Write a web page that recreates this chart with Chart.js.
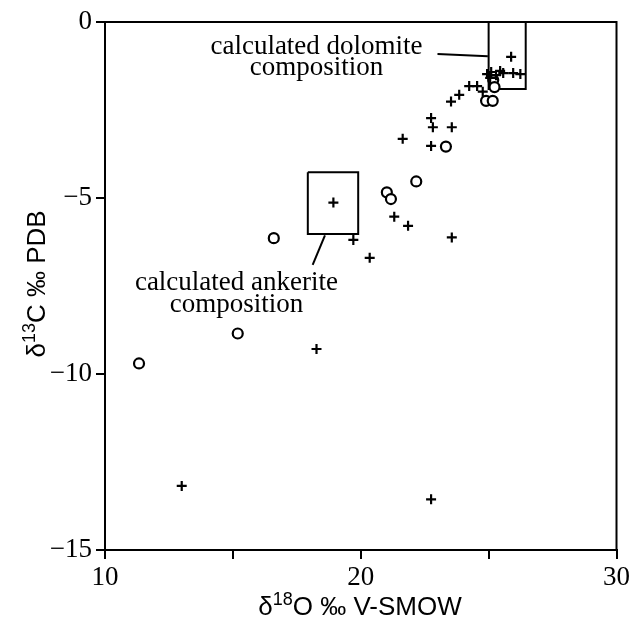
<!DOCTYPE html>
<html>
<head>
<meta charset="utf-8">
<script src="https://cdn.jsdelivr.net/npm/chart.js@4/dist/chart.umd.min.js"></script>
<style>
  html, body { margin: 0; padding: 0; background: #fff; }
  #wrap { width: 633px; height: 625px; }
</style>
</head>
<body>
<div id="wrap"><canvas id="c" width="633" height="625"></canvas></div>
<script>
// δ18O (‰ V-SMOW) and δ13C (‰ PDB) of the carbonate samples
const crossO = [13.0, 22.75, 18.27, 18.93, 19.71, 20.35, 21.31, 21.85, 23.56, 21.64,
                22.75, 22.75, 22.82, 23.56, 23.53, 23.85, 24.77, 24.24, 24.55, 25.88,
                25.96, 26.24, 24.94, 25.10, 25.29, 25.45, 25.57, 25.06];
const crossC = [-13.18, -13.56, -9.29, -5.13, -6.19, -6.70, -5.53, -5.79, -6.12, -3.32,
                -3.52, -2.73, -2.99, -2.99, -2.26, -2.07, -1.98, -1.82, -1.82, -0.99,
                -1.45, -1.48, -1.48, -1.42, -1.51, -1.39, -1.45, -1.59];

const circleO = [11.33, 15.19, 16.60, 21.02, 21.18, 22.17, 23.33, 24.90, 25.16, 25.18, 25.23];
const circleC = [-9.70, -8.85, -6.14, -4.84, -5.03, -4.53, -3.54, -2.24, -2.24, -1.65, -1.85];

// calculated composition fields (O range, C range)
const dolomiteO = [25.0, 26.45];
const dolomiteC = [0, -1.9];
const ankeriteO = [17.93, 19.9];
const ankeriteC = [-4.27, -6.02];

// leader lines from labels to fields
const dolomiteLeaderO = [23.0, 24.97];
const dolomiteLeaderC = [-0.91, -0.97];
const ankeriteLeaderO = [18.12, 18.6];
const ankeriteLeaderC = [-6.9, -6.06];

// label anchors
const dolomiteLabel = { o: 18.27, c: [-0.71, -1.3], lines: ['calculated dolomite', 'composition'] };
const ankeriteLabel = { o: 15.14, c: [-7.41, -8.03], lines: ['calculated ankerite', 'composition'] };

const xTicks = [10, 15, 20, 25, 30];
const xTickLabels = ['10', '', '20', '', '30'];
const yTicks = [0, -5, -10, -15];
const yTickLabels = ['0', '\u22125', '\u221210', '\u221215'];

const pts = (xs, ys) => xs.map((x, i) => ({ x: x, y: ys[i] }));
const rect = (xs, ys) => [
  { x: xs[0], y: ys[0] }, { x: xs[1], y: ys[0] },
  { x: xs[1], y: ys[1] }, { x: xs[0], y: ys[1] }, { x: xs[0], y: ys[0] }
];

const serif = '"Liberation Serif", "Times New Roman", serif';
const sans = '"Liberation Sans", Arial, sans-serif';

const lineDs = (data) => ({
  type: 'line', data: data, borderColor: '#000', borderWidth: 2,
  pointRadius: 0, fill: false, tension: 0
});

const decor = {
  id: 'decor',
  afterDraw(chart) {
    const ctx = chart.ctx;
    const a = chart.chartArea;
    const xs = chart.scales.x, ys = chart.scales.y;
    ctx.save();
    // frame
    ctx.strokeStyle = '#000';
    ctx.lineWidth = 2;
    ctx.strokeRect(a.left, a.top, a.right - a.left, a.bottom - a.top);

    // field labels
    ctx.fillStyle = '#000';
    ctx.font = '27px ' + serif;
    ctx.textAlign = 'center';
    ctx.textBaseline = 'middle';
    [dolomiteLabel, ankeriteLabel].forEach(l => {
      l.lines.forEach((t, i) => {
        ctx.fillText(t, xs.getPixelForValue(l.o), ys.getPixelForValue(l.c[i]));
      });
    });

    // axis titles with superscripts
    const title = (parts, cx, cy, rot) => {
      ctx.save();
      ctx.translate(cx, cy);
      ctx.rotate(rot);
      ctx.textAlign = 'left';
      ctx.textBaseline = 'alphabetic';
      const f = (p) => (p.sup ? '18px ' : '26px ') + sans;
      let w = 0;
      parts.forEach(p => { ctx.font = f(p); w += ctx.measureText(p.t).width; });
      let x = -w / 2;
      parts.forEach(p => {
        ctx.font = f(p);
        ctx.fillText(p.t, x, p.sup ? -1 : 9);
        x += ctx.measureText(p.t).width;
      });
      ctx.restore();
    };
    title([{ t: '\u03b4' }, { t: '18', sup: true }, { t: 'O \u2030 V-SMOW' }], 360, 606, 0);
    title([{ t: '\u03b4' }, { t: '13', sup: true }, { t: 'C \u2030 PDB' }], 36, 284, -Math.PI / 2);
    ctx.restore();
  }
};

new Chart(document.getElementById('c'), {
  type: 'scatter',
  data: {
    datasets: [
      { data: pts(crossO, crossC), pointStyle: 'cross', pointRadius: 5, borderColor: '#000', borderWidth: 2.2, backgroundColor: '#000' },
      { data: pts(circleO, circleC), pointStyle: 'circle', pointRadius: 5, borderColor: '#000', borderWidth: 2.2, backgroundColor: '#fff' },
      lineDs(rect(dolomiteO, dolomiteC)),
      lineDs(rect(ankeriteO, ankeriteC)),
      lineDs(pts(dolomiteLeaderO, dolomiteLeaderC)),
      lineDs(pts(ankeriteLeaderO, ankeriteLeaderC))
    ]
  },
  options: {
    responsive: false,
    animation: false,
    layout: { padding: { left: 0, top: 22, right: 16, bottom: 0 } },
    plugins: { legend: { display: false }, tooltip: { enabled: false } },
    scales: {
      x: {
        type: 'linear', min: 10, max: 30,
        afterFit(s) { s.height = 75; },
        afterBuildTicks(s) { s.ticks = xTicks.map(v => ({ value: v })); },
        ticks: {
          color: '#000', font: { family: serif, size: 27 }, padding: 3, maxRotation: 0,
          callback: (v) => xTickLabels[xTicks.indexOf(v)] ?? ''
        },
        grid: { drawOnChartArea: false, drawTicks: true, tickLength: 9, color: '#000', lineWidth: 2 },
        border: { color: '#000', width: 2 }
      },
      y: {
        type: 'linear', min: -15, max: 0,
        afterFit(s) { s.width = 105; },
        afterBuildTicks(s) { s.ticks = yTicks.map(v => ({ value: v })); },
        ticks: {
          color: '#000', font: { family: serif, size: 27 }, padding: 4,
          callback: (v) => yTickLabels[yTicks.indexOf(v)] ?? ''
        },
        grid: { drawOnChartArea: false, drawTicks: true, tickLength: 9, color: '#000', lineWidth: 2 },
        border: { color: '#000', width: 2 }
      }
    }
  },
  plugins: [decor]
});
</script>
</body>
</html>
